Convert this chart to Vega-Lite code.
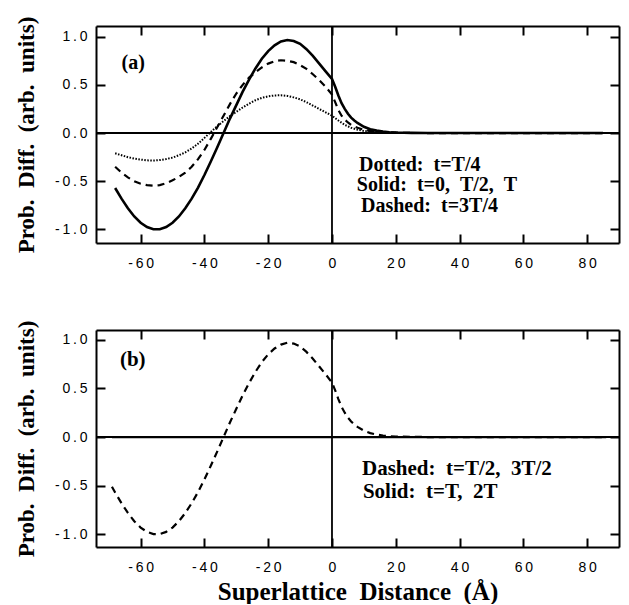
{
  "$schema": "https://vega.github.io/schema/vega-lite/v6.json",
  "padding": {"left": 15, "top": 16, "right": 6, "bottom": 0},
  "spacing": 50,
  "config": {
    "view": {"stroke": null},
    "axis": {
      "domainColor": "black", "domainWidth": 2,
      "tickColor": "black", "tickWidth": 2, "tickSize": 9,
      "zindex": 2,
      "labelFont": "Liberation Sans", "labelFontSize": 14, "labelColor": "black",
      "titleFont": "Liberation Serif", "titleFontWeight": "bold", "titleFontSize": 23, "titleColor": "black",
      "grid": false
    }
  },
  "datasets": {
    "a": [
      {"s":"Solid","x":-68,"y":-0.57},{"s":"Solid","x":-66,"y":-0.68},{"s":"Solid","x":-64,"y":-0.78},{"s":"Solid","x":-62,"y":-0.865},{"s":"Solid","x":-60,"y":-0.93},{"s":"Solid","x":-58,"y":-0.975},{"s":"Solid","x":-56,"y":-0.997},{"s":"Solid","x":-54,"y":-0.997},{"s":"Solid","x":-52,"y":-0.975},{"s":"Solid","x":-50,"y":-0.93},{"s":"Solid","x":-48,"y":-0.865},{"s":"Solid","x":-46,"y":-0.78},{"s":"Solid","x":-44,"y":-0.68},{"s":"Solid","x":-42,"y":-0.565},{"s":"Solid","x":-40,"y":-0.435},{"s":"Solid","x":-38,"y":-0.295},{"s":"Solid","x":-36,"y":-0.15},{"s":"Solid","x":-34,"y":0.0},{"s":"Solid","x":-32,"y":0.15},{"s":"Solid","x":-30,"y":0.29},{"s":"Solid","x":-28,"y":0.43},{"s":"Solid","x":-26,"y":0.555},{"s":"Solid","x":-24,"y":0.67},{"s":"Solid","x":-22,"y":0.77},{"s":"Solid","x":-20,"y":0.85},{"s":"Solid","x":-18,"y":0.91},{"s":"Solid","x":-16,"y":0.95},{"s":"Solid","x":-14,"y":0.965},{"s":"Solid","x":-12,"y":0.955},{"s":"Solid","x":-10,"y":0.925},{"s":"Solid","x":-8,"y":0.87},{"s":"Solid","x":-6,"y":0.8},{"s":"Solid","x":-4,"y":0.72},{"s":"Solid","x":-2,"y":0.64},{"s":"Solid","x":0,"y":0.56},{"s":"Solid","x":1,"y":0.48},{"s":"Solid","x":2,"y":0.39},{"s":"Solid","x":3,"y":0.31},{"s":"Solid","x":4,"y":0.25},{"s":"Solid","x":5,"y":0.2},{"s":"Solid","x":6,"y":0.16},{"s":"Solid","x":7,"y":0.13},{"s":"Solid","x":8,"y":0.105},{"s":"Solid","x":10,"y":0.065},{"s":"Solid","x":12,"y":0.04},{"s":"Solid","x":14,"y":0.025},{"s":"Solid","x":16,"y":0.015},{"s":"Solid","x":18,"y":0.009},{"s":"Solid","x":20,"y":0.005},{"s":"Solid","x":25,"y":0.002},{"s":"Solid","x":30,"y":0},{"s":"Solid","x":45,"y":0},{"s":"Solid","x":60,"y":0},{"s":"Solid","x":75,"y":0},{"s":"Solid","x":85,"y":0},
      {"s":"Dashed","x":-68,"y":-0.35},{"s":"Dashed","x":-66,"y":-0.41},{"s":"Dashed","x":-64,"y":-0.46},{"s":"Dashed","x":-62,"y":-0.5},{"s":"Dashed","x":-60,"y":-0.525},{"s":"Dashed","x":-58,"y":-0.54},{"s":"Dashed","x":-56,"y":-0.545},{"s":"Dashed","x":-54,"y":-0.54},{"s":"Dashed","x":-52,"y":-0.52},{"s":"Dashed","x":-50,"y":-0.49},{"s":"Dashed","x":-48,"y":-0.455},{"s":"Dashed","x":-46,"y":-0.41},{"s":"Dashed","x":-44,"y":-0.35},{"s":"Dashed","x":-42,"y":-0.27},{"s":"Dashed","x":-40,"y":-0.175},{"s":"Dashed","x":-38,"y":-0.06},{"s":"Dashed","x":-36,"y":0.06},{"s":"Dashed","x":-34,"y":0.18},{"s":"Dashed","x":-32,"y":0.3},{"s":"Dashed","x":-30,"y":0.41},{"s":"Dashed","x":-28,"y":0.5},{"s":"Dashed","x":-26,"y":0.575},{"s":"Dashed","x":-24,"y":0.63},{"s":"Dashed","x":-22,"y":0.68},{"s":"Dashed","x":-20,"y":0.72},{"s":"Dashed","x":-18,"y":0.745},{"s":"Dashed","x":-16,"y":0.755},{"s":"Dashed","x":-14,"y":0.75},{"s":"Dashed","x":-12,"y":0.735},{"s":"Dashed","x":-10,"y":0.705},{"s":"Dashed","x":-8,"y":0.665},{"s":"Dashed","x":-6,"y":0.61},{"s":"Dashed","x":-4,"y":0.55},{"s":"Dashed","x":-2,"y":0.48},{"s":"Dashed","x":0,"y":0.4},{"s":"Dashed","x":1,"y":0.32},{"s":"Dashed","x":2,"y":0.24},{"s":"Dashed","x":3,"y":0.18},{"s":"Dashed","x":4,"y":0.14},{"s":"Dashed","x":5,"y":0.11},{"s":"Dashed","x":6,"y":0.085},{"s":"Dashed","x":8,"y":0.055},{"s":"Dashed","x":10,"y":0.035},{"s":"Dashed","x":12,"y":0.022},{"s":"Dashed","x":15,"y":0.012},{"s":"Dashed","x":20,"y":0.004},{"s":"Dashed","x":25,"y":0.001},{"s":"Dashed","x":30,"y":0},{"s":"Dashed","x":45,"y":0},{"s":"Dashed","x":60,"y":0},{"s":"Dashed","x":75,"y":0},{"s":"Dashed","x":85,"y":0},
      {"s":"Dotted","x":-68,"y":-0.21},{"s":"Dotted","x":-66,"y":-0.23},{"s":"Dotted","x":-64,"y":-0.25},{"s":"Dotted","x":-62,"y":-0.265},{"s":"Dotted","x":-60,"y":-0.275},{"s":"Dotted","x":-58,"y":-0.283},{"s":"Dotted","x":-56,"y":-0.285},{"s":"Dotted","x":-54,"y":-0.28},{"s":"Dotted","x":-52,"y":-0.27},{"s":"Dotted","x":-50,"y":-0.255},{"s":"Dotted","x":-48,"y":-0.23},{"s":"Dotted","x":-46,"y":-0.2},{"s":"Dotted","x":-44,"y":-0.16},{"s":"Dotted","x":-42,"y":-0.11},{"s":"Dotted","x":-40,"y":-0.05},{"s":"Dotted","x":-38,"y":0.01},{"s":"Dotted","x":-36,"y":0.07},{"s":"Dotted","x":-34,"y":0.125},{"s":"Dotted","x":-32,"y":0.175},{"s":"Dotted","x":-30,"y":0.22},{"s":"Dotted","x":-28,"y":0.265},{"s":"Dotted","x":-26,"y":0.305},{"s":"Dotted","x":-24,"y":0.34},{"s":"Dotted","x":-22,"y":0.365},{"s":"Dotted","x":-20,"y":0.38},{"s":"Dotted","x":-18,"y":0.39},{"s":"Dotted","x":-16,"y":0.392},{"s":"Dotted","x":-14,"y":0.385},{"s":"Dotted","x":-12,"y":0.37},{"s":"Dotted","x":-10,"y":0.35},{"s":"Dotted","x":-8,"y":0.32},{"s":"Dotted","x":-6,"y":0.285},{"s":"Dotted","x":-4,"y":0.25},{"s":"Dotted","x":-2,"y":0.215},{"s":"Dotted","x":0,"y":0.18},{"s":"Dotted","x":2,"y":0.13},{"s":"Dotted","x":4,"y":0.085},{"s":"Dotted","x":6,"y":0.055},{"s":"Dotted","x":8,"y":0.035},{"s":"Dotted","x":10,"y":0.022},{"s":"Dotted","x":13,"y":0.012},{"s":"Dotted","x":16,"y":0.006},{"s":"Dotted","x":20,"y":0.002},{"s":"Dotted","x":25,"y":0},{"s":"Dotted","x":40,"y":0},{"s":"Dotted","x":55,"y":0},{"s":"Dotted","x":70,"y":0},{"s":"Dotted","x":85,"y":0}
    ],
    "b": [
      {"s":"Dashed","x":-69,"y":-0.51},{"s":"Dashed","x":-68,"y":-0.57},{"s":"Dashed","x":-66,"y":-0.68},{"s":"Dashed","x":-64,"y":-0.78},{"s":"Dashed","x":-62,"y":-0.865},{"s":"Dashed","x":-60,"y":-0.93},{"s":"Dashed","x":-58,"y":-0.975},{"s":"Dashed","x":-56,"y":-0.997},{"s":"Dashed","x":-54,"y":-0.997},{"s":"Dashed","x":-52,"y":-0.975},{"s":"Dashed","x":-50,"y":-0.93},{"s":"Dashed","x":-48,"y":-0.865},{"s":"Dashed","x":-46,"y":-0.78},{"s":"Dashed","x":-44,"y":-0.68},{"s":"Dashed","x":-42,"y":-0.565},{"s":"Dashed","x":-40,"y":-0.435},{"s":"Dashed","x":-38,"y":-0.295},{"s":"Dashed","x":-36,"y":-0.15},{"s":"Dashed","x":-34,"y":0.0},{"s":"Dashed","x":-32,"y":0.15},{"s":"Dashed","x":-30,"y":0.29},{"s":"Dashed","x":-28,"y":0.43},{"s":"Dashed","x":-26,"y":0.555},{"s":"Dashed","x":-24,"y":0.67},{"s":"Dashed","x":-22,"y":0.77},{"s":"Dashed","x":-20,"y":0.85},{"s":"Dashed","x":-18,"y":0.91},{"s":"Dashed","x":-16,"y":0.95},{"s":"Dashed","x":-14,"y":0.97},{"s":"Dashed","x":-12,"y":0.96},{"s":"Dashed","x":-10,"y":0.93},{"s":"Dashed","x":-8,"y":0.875},{"s":"Dashed","x":-6,"y":0.805},{"s":"Dashed","x":-4,"y":0.725},{"s":"Dashed","x":-2,"y":0.645},{"s":"Dashed","x":0,"y":0.56},{"s":"Dashed","x":1,"y":0.48},{"s":"Dashed","x":2,"y":0.39},{"s":"Dashed","x":3,"y":0.31},{"s":"Dashed","x":4,"y":0.25},{"s":"Dashed","x":5,"y":0.2},{"s":"Dashed","x":6,"y":0.16},{"s":"Dashed","x":7,"y":0.13},{"s":"Dashed","x":8,"y":0.105},{"s":"Dashed","x":10,"y":0.065},{"s":"Dashed","x":12,"y":0.04},{"s":"Dashed","x":14,"y":0.025},{"s":"Dashed","x":16,"y":0.015},{"s":"Dashed","x":18,"y":0.009},{"s":"Dashed","x":20,"y":0.005},{"s":"Dashed","x":25,"y":0.002},{"s":"Dashed","x":30,"y":0},{"s":"Dashed","x":45,"y":0},{"s":"Dashed","x":60,"y":0},{"s":"Dashed","x":75,"y":0},{"s":"Dashed","x":86,"y":0},
      {"s":"Solid","x":-69,"y":0},{"s":"Solid","x":86,"y":0}
    ],
    "ta": [
      {"x":-66,"y":0.73,"label":"(a)"},
      {"x":8.5,"y":-0.33,"label":"Dotted:\u00a0\u00a0t=T/4"},
      {"x":7.8,"y":-0.541,"label":"Solid:\u00a0\u00a0t=0,\u00a0\u00a0T/2,\u00a0\u00a0T"},
      {"x":9.1,"y":-0.753,"label":"Dashed:\u00a0\u00a0t=3T/4"}
    ],
    "tb": [
      {"x":-66.5,"y":0.79,"label":"(b)"},
      {"x":9.4,"y":-0.33,"label":"Dashed:\u00a0\u00a0t=T/2,\u00a0\u00a03T/2"},
      {"x":9.7,"y":-0.567,"label":"Solid:\u00a0\u00a0t=T,\u00a0\u00a02T"}
    ],
    "zero": [{"v":0}]
  },
  "vconcat": [
    {
      "width": 523, "height": 217,
      "resolve": {"axis": {"x": "independent", "y": "independent"}},
      "layer": [
        {
          "data": {"name": "a"},
          "transform": [{"filter": "datum.s === 'Solid'"}],
          "mark": {"type": "line", "color": "black", "strokeWidth": 2.6},
          "encoding": {
            "x": {"field": "x", "type": "quantitative", "scale": {"domain": [-74, 90], "nice": false, "zero": false},
                  "axis": {"orient": "bottom", "title": null, "values": [-60,-40,-20,0,20,40,60,80], "ticks": false, "domain": true, "labelPadding": 13,
                           "labelExpr": "join(split((datum.value < 0 ? '-' : '') + format(abs(datum.value), 'd'), ''), '\u2009')"}},
            "y": {"field": "y", "type": "quantitative", "scale": {"domain": [-1.14, 1.11], "nice": false, "zero": false},
                  "axis": {"orient": "left", "title": "Prob.\u00a0\u00a0Diff.\u00a0\u00a0(arb.\u00a0\u00a0units)", "titlePadding": 16, "values": [-1,-0.5,0,0.5,1], "ticks": false, "domain": true, "labelPadding": 9,
                           "labelExpr": "join(split((datum.value < 0 ? '-' : '') + format(abs(datum.value), '.1f'), ''), '\u2009')"}}
          }
        },
        {
          "data": {"name": "a"},
          "transform": [{"filter": "datum.s === 'Dashed'"}],
          "mark": {"type": "line", "color": "black", "strokeWidth": 2.2, "strokeDash": [7, 5]},
          "encoding": {
            "x": {"field": "x", "type": "quantitative", "axis": {"orient": "top", "offset": -217, "values": [-60,-40,-20,0,20,40,60,80], "labels": false, "domain": false, "ticks": true, "title": null}},
            "y": {"field": "y", "type": "quantitative", "axis": {"orient": "right", "offset": -523, "values": [-1,-0.5,0,0.5,1], "labels": false, "domain": false, "ticks": true, "title": null}}
          }
        },
        {
          "data": {"name": "a"},
          "transform": [{"filter": "datum.s === 'Dotted'"}],
          "mark": {"type": "line", "color": "black", "strokeWidth": 2, "strokeDash": [1.5, 1.5]},
          "encoding": {
            "x": {"field": "x", "type": "quantitative", "axis": {"orient": "bottom", "offset": -217, "values": [-60,-40,-20,0,20,40,60,80], "labels": false, "domain": true, "ticks": true, "title": null}},
            "y": {"field": "y", "type": "quantitative", "axis": {"orient": "left", "offset": -523, "values": [-1,-0.5,0,0.5,1], "labels": false, "domain": true, "ticks": true, "title": null}}
          }
        },
        {
          "data": {"name": "zero"},
          "mark": {"type": "rule", "color": "black", "strokeWidth": 2},
          "encoding": {"y": {"field": "v", "type": "quantitative", "axis": null}}
        },
        {
          "data": {"name": "zero"},
          "mark": {"type": "rule", "color": "black", "strokeWidth": 1.8},
          "encoding": {"x": {"field": "v", "type": "quantitative", "axis": null}}
        },
        {
          "data": {"name": "ta"},
          "mark": {"type": "text", "font": "Liberation Serif", "fontWeight": "bold", "fontSize": 20, "align": "left", "baseline": "middle", "color": "black"},
          "encoding": {
            "x": {"field": "x", "type": "quantitative", "axis": null},
            "y": {"field": "y", "type": "quantitative", "axis": null},
            "text": {"field": "label"}
          }
        }
      ]
    },
    {
      "width": 523, "height": 217,
      "resolve": {"axis": {"x": "independent", "y": "independent"}},
      "layer": [
        {
          "data": {"name": "b"},
          "transform": [{"filter": "datum.s === 'Solid'"}],
          "mark": {"type": "line", "color": "black", "strokeWidth": 2.2},
          "encoding": {
            "x": {"field": "x", "type": "quantitative", "scale": {"domain": [-74, 90], "nice": false, "zero": false},
                  "axis": {"orient": "bottom", "title": "Superlattice\u00a0\u00a0Distance\u00a0\u00a0(Å)", "titleFontSize": 25, "titlePadding": 5, "values": [-60,-40,-20,0,20,40,60,80], "ticks": false, "domain": true, "labelPadding": 13,
                           "labelExpr": "join(split((datum.value < 0 ? '-' : '') + format(abs(datum.value), 'd'), ''), '\u2009')"}},
            "y": {"field": "y", "type": "quantitative", "scale": {"domain": [-1.13, 1.1], "nice": false, "zero": false},
                  "axis": {"orient": "left", "title": "Prob.\u00a0\u00a0Diff.\u00a0\u00a0(arb.\u00a0\u00a0units)", "titlePadding": 16, "values": [-1,-0.5,0,0.5,1], "ticks": false, "domain": true, "labelPadding": 9,
                           "labelExpr": "join(split((datum.value < 0 ? '-' : '') + format(abs(datum.value), '.1f'), ''), '\u2009')"}}
          }
        },
        {
          "data": {"name": "b"},
          "transform": [{"filter": "datum.s === 'Dashed'"}],
          "mark": {"type": "line", "color": "black", "strokeWidth": 2.2, "strokeDash": [7, 5]},
          "encoding": {
            "x": {"field": "x", "type": "quantitative", "axis": {"orient": "top", "offset": -217, "values": [-60,-40,-20,0,20,40,60,80], "labels": false, "domain": false, "ticks": true, "title": null}},
            "y": {"field": "y", "type": "quantitative", "axis": {"orient": "right", "offset": -523, "values": [-1,-0.5,0,0.5,1], "labels": false, "domain": false, "ticks": true, "title": null}}
          }
        },
        {
          "data": {"name": "zero"},
          "mark": {"type": "rule", "color": "black", "strokeWidth": 2},
          "encoding": {"y": {"field": "v", "type": "quantitative", "axis": null}}
        },
        {
          "data": {"name": "zero"},
          "mark": {"type": "rule", "color": "black", "strokeWidth": 1.8},
          "encoding": {"x": {"field": "v", "type": "quantitative", "axis": null}}
        },
        {
          "data": {"name": "tb"},
          "mark": {"type": "text", "font": "Liberation Serif", "fontWeight": "bold", "fontSize": 21, "align": "left", "baseline": "middle", "color": "black"},
          "encoding": {
            "x": {"field": "x", "type": "quantitative", "axis": null},
            "y": {"field": "y", "type": "quantitative", "axis": null},
            "text": {"field": "label"}
          }
        },
        {
          "data": {"name": "b"},
          "mark": {"type": "point", "opacity": 0},
          "encoding": {
            "x": {"field": "x", "type": "quantitative", "axis": {"orient": "bottom", "offset": -217, "values": [-60,-40,-20,0,20,40,60,80], "labels": false, "domain": true, "ticks": true, "title": null}},
            "y": {"field": "y", "type": "quantitative", "axis": {"orient": "left", "offset": -523, "values": [-1,-0.5,0,0.5,1], "labels": false, "domain": true, "ticks": true, "title": null}}
          }
        }
      ]
    }
  ]
}
